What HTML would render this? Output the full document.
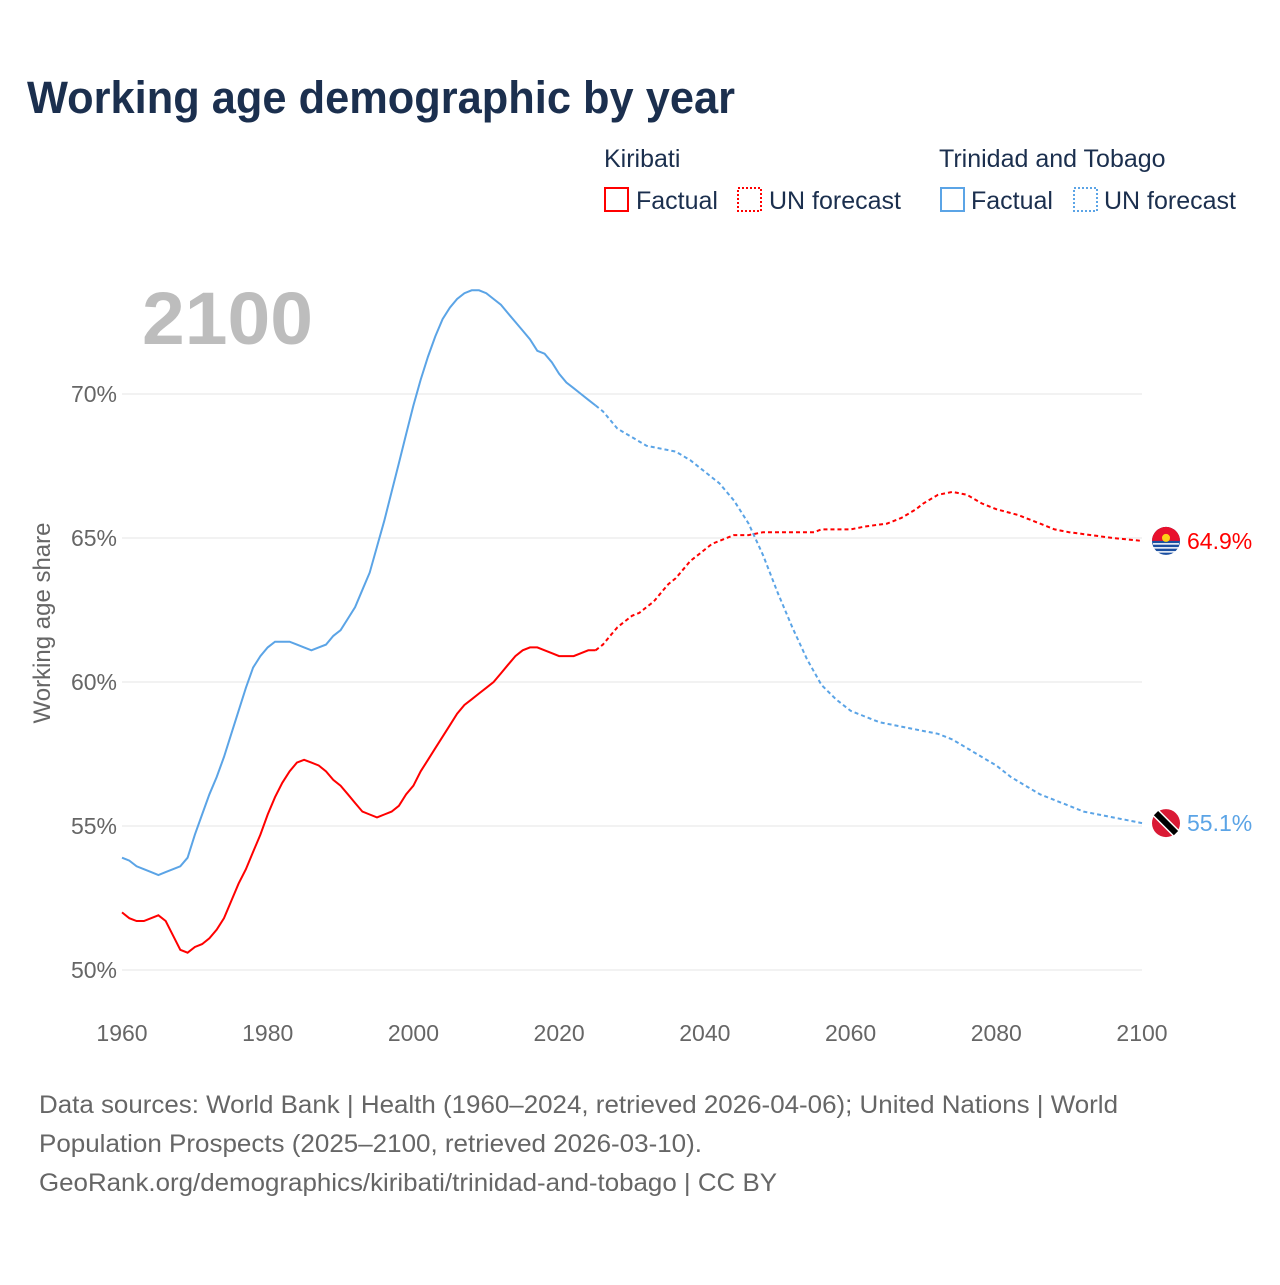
<!DOCTYPE html>
<html><head><meta charset="utf-8"><style>
body{margin:0;background:#fff;font-family:"Liberation Sans",sans-serif;}
svg text{font-family:"Liberation Sans",sans-serif;}
</style></head><body>
<svg id="chart" width="1280" height="1280" xmlns="http://www.w3.org/2000/svg">
<rect width="1280" height="1280" fill="#fff"/>
<text x="27" y="113" font-size="45" font-weight="bold" fill="#1b2f4e" textLength="708" lengthAdjust="spacingAndGlyphs">Working age demographic by year</text>
<g font-size="25" fill="#1b2f4e">
<text x="604" y="167">Kiribati</text>
<text x="939" y="167">Trinidad and Tobago</text>
<g><rect x="605" y="188" width="23" height="23" fill="none" stroke="#f00" stroke-width="2"/><text x="636" y="209">Factual</text></g>
<g><rect x="738" y="188" width="23" height="23" fill="none" stroke="#f00" stroke-width="2" stroke-dasharray="2,2"/><text x="769" y="209">UN forecast</text></g>
<g><rect x="941" y="188" width="23" height="23" fill="none" stroke="#5ba4e6" stroke-width="2"/><text x="971" y="209">Factual</text></g>
<g><rect x="1074" y="188" width="23" height="23" fill="none" stroke="#5ba4e6" stroke-width="2" stroke-dasharray="2,2"/><text x="1104" y="209">UN forecast</text></g>
</g>
<text x="142" y="344" font-size="74" font-weight="bold" fill="#bdbdbd" textLength="171" lengthAdjust="spacingAndGlyphs">2100</text>
<text transform="translate(50,623) rotate(-90)" text-anchor="middle" font-size="24" fill="#666">Working age share</text>
<g id="grid"></g><g id="series"></g>
<g font-size="25" fill="#666">
<text x="39" y="1113" textLength="1079" lengthAdjust="spacingAndGlyphs">Data sources: World Bank | Health (1960–2024, retrieved 2026-04-06); United Nations | World</text>
<text x="39" y="1152" textLength="663" lengthAdjust="spacingAndGlyphs">Population Prospects (2025–2100, retrieved 2026-03-10).</text>
<text x="39" y="1191" textLength="738" lengthAdjust="spacingAndGlyphs">GeoRank.org/demographics/kiribati/trinidad-and-tobago | CC BY</text>
</g>
</svg>
<script>
const yTicks=[50,55,60,65,70];
const xTicks=[1960,1980,2000,2020,2040,2060,2080,2100];
const kiYears=[1960,1961,1962,1963,1964,1965,1966,1967,1968,1969,1970,1971,1972,1973,1974,1975,1976,1977,1978,1979,1980,1981,1982,1983,1984,1985,1986,1987,1988,1989,1990,1991,1992,1993,1994,1995,1996,1997,1998,1999,2000,2001,2002,2003,2004,2005,2006,2007,2008,2009,2010,2011,2012,2013,2014,2015,2016,2017,2018,2019,2020,2021,2022,2023,2024,2025];
const kiVals=[52.0,51.8,51.7,51.7,51.8,51.9,51.7,51.2,50.7,50.6,50.8,50.9,51.1,51.4,51.8,52.4,53.0,53.5,54.1,54.7,55.4,56.0,56.5,56.9,57.2,57.3,57.2,57.1,56.9,56.6,56.4,56.1,55.8,55.5,55.4,55.3,55.4,55.5,55.7,56.1,56.4,56.9,57.3,57.7,58.1,58.5,58.9,59.2,59.4,59.6,59.8,60.0,60.3,60.6,60.9,61.1,61.2,61.2,61.1,61.0,60.9,60.9,60.9,61.0,61.1,61.1];
const kiFYears=[2025,2026,2027,2028,2029,2030,2031,2032,2033,2034,2035,2036,2037,2038,2039,2040,2041,2042,2043,2044,2046,2048,2052,2055,2056,2060,2062,2065,2067,2069,2070,2072,2074,2076,2078,2080,2083,2086,2088,2090,2093,2096,2100];
const kiFVals=[61.1,61.3,61.6,61.9,62.1,62.3,62.4,62.6,62.8,63.1,63.4,63.6,63.9,64.2,64.4,64.6,64.8,64.9,65.0,65.1,65.1,65.2,65.2,65.2,65.3,65.3,65.4,65.5,65.7,66.0,66.2,66.5,66.6,66.5,66.2,66.0,65.8,65.5,65.3,65.2,65.1,65.0,64.9];
const ttYears=[1960,1961,1962,1963,1964,1965,1966,1967,1968,1969,1970,1971,1972,1973,1974,1975,1976,1977,1978,1979,1980,1981,1982,1983,1984,1985,1986,1987,1988,1989,1990,1991,1992,1993,1994,1995,1996,1997,1998,1999,2000,2001,2002,2003,2004,2005,2006,2007,2008,2009,2010,2011,2012,2013,2014,2015,2016,2017,2018,2019,2020,2021,2022,2023,2024,2025];
const ttVals=[53.9,53.8,53.6,53.5,53.4,53.3,53.4,53.5,53.6,53.9,54.7,55.4,56.1,56.7,57.4,58.2,59.0,59.8,60.5,60.9,61.2,61.4,61.4,61.4,61.3,61.2,61.1,61.2,61.3,61.6,61.8,62.2,62.6,63.2,63.8,64.7,65.6,66.6,67.6,68.6,69.6,70.5,71.3,72.0,72.6,73.0,73.3,73.5,73.6,73.6,73.5,73.3,73.1,72.8,72.5,72.2,71.9,71.5,71.4,71.1,70.7,70.4,70.2,70.0,69.8,69.6];
const ttFYears=[2025,2026,2028,2030,2032,2034,2036,2038,2040,2042,2044,2046,2048,2050,2052,2054,2056,2058,2060,2062,2064,2066,2068,2070,2072,2074,2076,2078,2080,2082,2084,2086,2088,2090,2092,2094,2096,2098,2100];
const ttFVals=[69.6,69.4,68.8,68.5,68.2,68.1,68.0,67.7,67.3,66.9,66.3,65.5,64.4,63.1,61.9,60.8,59.9,59.4,59.0,58.8,58.6,58.5,58.4,58.3,58.2,58.0,57.7,57.4,57.1,56.7,56.4,56.1,55.9,55.7,55.5,55.4,55.3,55.2,55.1];
const NS="http://www.w3.org/2000/svg";
const X=y=>122+(y-1960)*(1020/140);
const Y=v=>970-(v-50)*28.8;
function mk(tag,attrs,parent){const e=document.createElementNS(NS,tag);for(const k in attrs)e.setAttribute(k,attrs[k]);parent.appendChild(e);return e;}
const grid=document.getElementById('grid'),ser=document.getElementById('series');
yTicks.forEach(t=>{
 const l=mk('line',{x1:122,x2:1142,y1:Y(t),y2:Y(t),stroke:'#e6e6e6','stroke-width':1},grid);
 
 
 const tx=mk('text',{x:117,y:Y(t)+8,'text-anchor':'end','font-size':23,fill:'#666'},grid);
 tx.textContent=t+'%';
 
 
});
xTicks.forEach(t=>{
 const tx=mk('text',{x:X(t),y:1041,'text-anchor':'middle','font-size':23,fill:'#666'},grid);
 tx.textContent=t;
 
 
});
function line(xs,vs,color,dash,name){
 const d=xs.map((x,i)=>(i?'L':'M')+X(x).toFixed(1)+','+Y(vs[i]).toFixed(1)).join('');
 const p=mk('path',{d:d,fill:'none',stroke:color,'stroke-width':2,'stroke-dasharray':dash},ser);
 
 
}
line(kiYears,kiVals,'#f00','none','kiribati-factual-line');
line(kiFYears,kiFVals,'#f00','4,3','kiribati-forecast-line');
line(ttYears,ttVals,'#5ba4e6','none','tt-factual-line');
line(ttFYears,ttFVals,'#5ba4e6','4,3','tt-forecast-line');
function endLabel(v,color,name,flag){
 const cx=1166,cy=Y(v);
 const g=mk('g',{},ser);
 
 
 if(flag==='ki'){
  mk('circle',{cx:cx,cy:cy,r:14,fill:'#1b4fa0'},g);
  mk('path',{d:`M${cx-14},${cy} A14,14 0 0 1 ${cx+14},${cy} Z`,fill:'#e8112d'},g);
  mk('circle',{cx:cx,cy:cy-3,r:4,fill:'#fcd116'},g);
  for(let i=0;i<3;i++)mk('line',{x1:cx-13,x2:cx+13,y1:cy+3+i*4,y2:cy+3+i*4,stroke:'#fff','stroke-width':1.5},g);
 }else{
  mk('circle',{cx:cx,cy:cy,r:14,fill:'#da1a35'},g);
  mk('line',{x1:cx-10,y1:cy-10,x2:cx+10,y2:cy+10,stroke:'#fff','stroke-width':9},g);
  mk('line',{x1:cx-10,y1:cy-10,x2:cx+10,y2:cy+10,stroke:'#000','stroke-width':6},g);
 }
 const t=mk('text',{x:1187,y:cy+8,'font-size':23,fill:color},g);
 t.textContent=v.toFixed(1)+'%';
}
endLabel(kiFVals[kiFVals.length-1],'#f00','kiribati-end-label','ki');
endLabel(ttFVals[ttFVals.length-1],'#5ba4e6','tt-end-label','tt');
</script>
</body></html>
